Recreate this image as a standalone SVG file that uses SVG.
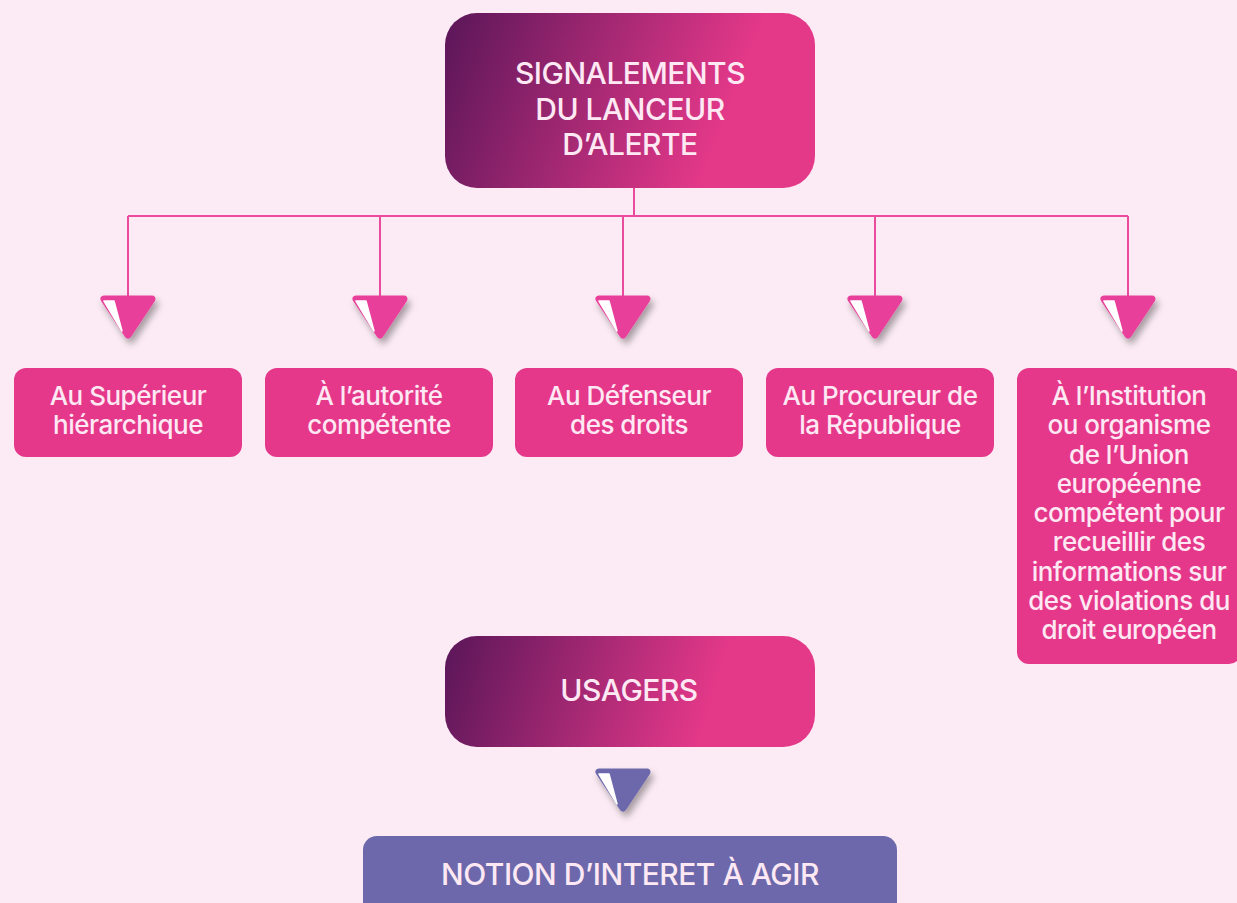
<svg xmlns="http://www.w3.org/2000/svg" width="1237" height="903" viewBox="0 0 1237 903">
<defs>
<linearGradient id="g1" gradientUnits="userSpaceOnUse" x1="445" y1="13" x2="725" y2="120">
<stop offset="0" stop-color="#5a1659"/>
<stop offset="1" stop-color="#e43889"/>
</linearGradient>
<linearGradient id="g2" gradientUnits="userSpaceOnUse" x1="445" y1="636" x2="705" y2="720">
<stop offset="0" stop-color="#5a1659"/>
<stop offset="1" stop-color="#e43889"/>
</linearGradient>
<filter id="sh" x="-50%" y="-50%" width="200%" height="200%">
<feDropShadow dx="3" dy="5" stdDeviation="3.5" flood-color="#000" flood-opacity="0.35"/>
</filter>
<g id="tri">
<path d="M-24,0 L24,0 L0,36 Z" stroke-width="7" stroke-linejoin="round"/>
</g>
<path id="hl" d="M-24,2 L-14,2 L-6,32 Z" fill="#ffffff" stroke="#ffffff" stroke-width="1.5" stroke-linejoin="round"/>
</defs>
<style>
text{font-family:Inter,"Liberation Sans",sans-serif;fill:#fde8f3;text-anchor:middle;font-weight:500;letter-spacing:-0.5px}
.t{font-size:26px}
.h{font-size:30px}
.pk{fill:#e5388a}
.pu{fill:#6c68ab}
.conn{stroke:#ea4b9c;stroke-width:2;fill:none}
.tp{fill:#e8419a;stroke:#e8419a}
.tv{fill:#6c68ab;stroke:#6c68ab}
</style>
<rect width="1237" height="903" fill="#fcebf4"/>
<g id="connectors">
<path class="conn" d="M634,188 V216 M128,216 H1128 M128,216 V298 M380,216 V298 M623,216 V298 M875,216 V298 M1128,216 V298"/>
</g>
<g id="arrows">
<g filter="url(#sh)"><use href="#tri" class="tp" x="128" y="299"/></g><use href="#hl" x="128" y="299"/>
<g filter="url(#sh)"><use href="#tri" class="tp" x="380" y="299"/></g><use href="#hl" x="380" y="299"/>
<g filter="url(#sh)"><use href="#tri" class="tp" x="623" y="299"/></g><use href="#hl" x="623" y="299"/>
<g filter="url(#sh)"><use href="#tri" class="tp" x="875" y="299"/></g><use href="#hl" x="875" y="299"/>
<g filter="url(#sh)"><use href="#tri" class="tp" x="1128" y="299"/></g><use href="#hl" x="1128" y="299"/>
<g filter="url(#sh)"><use href="#tri" class="tv" x="623" y="772"/></g><use href="#hl" x="623" y="772"/>
</g>
<g id="top">
<rect x="445" y="13" width="370" height="175" rx="32" fill="url(#g1)"/>
<text class="h" x="630" y="84">SIGNALEMENTS</text>
<text class="h" x="630" y="120">DU LANCEUR</text>
<text class="h" x="630" y="155">D’ALERTE</text>
</g>
<g id="n1">
<rect class="pk" x="14" y="368" width="228" height="89" rx="12"/>
<text class="t" x="128" y="405">Au Supérieur</text>
<text class="t" x="128" y="434">hiérarchique</text>
</g>
<g id="n2">
<rect class="pk" x="265" y="368" width="228" height="89" rx="12"/>
<text class="t" x="379" y="405">À l’autorité</text>
<text class="t" x="379" y="434">compétente</text>
</g>
<g id="n3">
<rect class="pk" x="515" y="368" width="228" height="89" rx="12"/>
<text class="t" x="629" y="405">Au Défenseur</text>
<text class="t" x="629" y="434">des droits</text>
</g>
<g id="n4">
<rect class="pk" x="766" y="368" width="228" height="89" rx="12"/>
<text class="t" x="880" y="405">Au Procureur de</text>
<text class="t" x="880" y="434">la République</text>
</g>
<g id="n5">
<rect class="pk" x="1017" y="368" width="224" height="296" rx="12"/>
<text class="t" x="1129" y="405">À l’Institution</text>
<text class="t" x="1129" y="434.25">ou organisme</text>
<text class="t" x="1129" y="463.5">de l’Union</text>
<text class="t" x="1129" y="492.75">européenne</text>
<text class="t" x="1129" y="522">compétent pour</text>
<text class="t" x="1129" y="551.25">recueillir des</text>
<text class="t" x="1129" y="580.5">informations sur</text>
<text class="t" x="1129" y="609.75">des violations du</text>
<text class="t" x="1129" y="639">droit européen</text>
</g>
<g id="usagers">
<rect x="445" y="636" width="370" height="111" rx="32" fill="url(#g2)"/>
<text class="h" x="629" y="701">USAGERS</text>
</g>
<g id="notion">
<rect class="pu" x="363" y="836" width="534" height="90" rx="14"/>
<text class="h" x="630" y="885">NOTION D’INTERET À AGIR</text>
</g>
</svg>
